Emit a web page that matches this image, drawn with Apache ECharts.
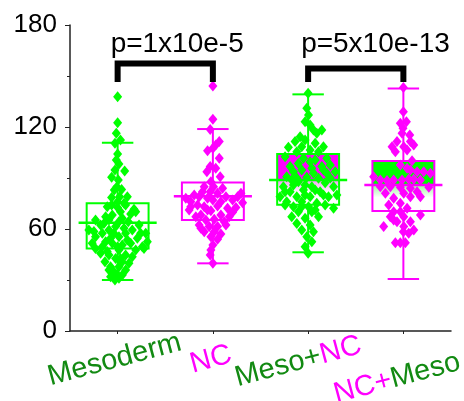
<!DOCTYPE html>
<html>
<head>
<meta charset="utf-8">
<script src="https://cdn.jsdelivr.net/npm/echarts@6/dist/echarts.min.js"></script>
<style>
  html, body { margin: 0; padding: 0; background: #fff; }
  #chart { width: 464px; height: 401px; }
</style>
</head>
<body>
<div id="chart"></div>
<script>
// Groups along the x axis
const categories = ['Mesoderm', 'NC', 'Meso+NC', 'NC+Meso'];
// Colour key for each fragment of a group name: g = mesoderm green, m = neural crest magenta
const labelParts = [
  [['Mesoderm', 'g']],
  [['NC', 'm']],
  [['Meso+', 'g'], ['NC', 'm']],
  [['NC+', 'm'], ['Meso', 'g']]
];

// Box statistics per group
const boxLow    = [30.0, 39.8, 46.3, 30.6];
const boxQ1     = [48.6, 65.3, 74.3, 70.6];
const boxMedian = [63.7, 79.2, 88.8, 85.9];
const boxQ3     = [75.1, 87.4, 104.1, 100.0];
const boxHigh   = [110.8, 118.8, 139.2, 142.7];

// Individual measurements: [horizontal jitter (fraction of a group slot), value]
const mesodermPoints = [
  [0, 137.8], [0, 122.5], [-0.014, 116.3], [0.03, 112.4], [-0.028, 110.4], [0, 104.1],
  [-0.014, 100.6], [0.014, 98.2], [-0.028, 94.7], [0.074, 94.1], [-0.063, 90.4], [0.007, 88.8],
  [-0.007, 84.9], [0.042, 83.3], [-0.035, 82.9], [-0.063, 78.6], [0.021, 79.0], [0.102, 79.0],
  [0, 76.1], [0.067, 75.1], [0.084, 74.1], [-0.063, 74.1], [-0.109, 73.1], [0, 72.7],
  [0.172, 71.6], [0.19, 70.2], [0.03, 70.2], [0.137, 68.8], [-0.056, 68.2], [-0.126, 67.2],
  [0.049, 66.3], [-0.232, 65.3], [-0.091, 65.3], [0.112, 64.3], [0.014, 64.3], [-0.144, 63.3],
  [-0.179, 62.4], [0.225, 62.4], [-0.021, 61.4], [0.067, 60.4], [-0.302, 59.4], [-0.091, 59.4],
  [0.154, 59.4], [-0.249, 58.5], [-0.161, 57.5], [-0.039, 57.5], [0.084, 57.5], [0.242, 57.5],
  [0.295, 57.5], [-0.232, 55.5], [0.014, 55.5], [-0.074, 54.5], [0.207, 54.5], [0.102, 53.5],
  [-0.126, 52.5], [0.312, 52.5], [-0.267, 51.6], [-0.056, 51.6], [0.137, 51.6], [0.049, 50.6],
  [-0.161, 49.6], [0, 49.6], [0.26, 49.6], [-0.232, 48.6], [0.277, 48.6], [0.014, 47.6],
  [0.19, 47.6], [-0.109, 46.7], [-0.179, 45.7], [-0.091, 44.7], [0.084, 44.7], [0.154, 43.7],
  [-0.021, 42.7], [0.03, 42.7], [-0.133, 40.8], [0.049, 40.8], [0.119, 39.8], [-0.074, 37.8],
  [0.014, 37.8], [0.084, 35.9], [-0.091, 35.9], [-0.039, 34.9], [0, 32.9], [0.049, 32.9],
  [-0.074, 31.9], [0.014, 31.0], [-0.028, 30.0]
];
const ncPoints = [
  [0, 144.1], [0, 124.5], [-0.028, 118.6], [0.067, 111.4], [0.03, 109.4], [0, 107.5],
  [-0.056, 106.1], [0.067, 101.6], [-0.028, 96.7], [0.03, 95.7], [-0.063, 93.7], [0.077, 90.8],
  [-0.021, 87.8], [-0.091, 84.9], [0.007, 84.9], [0.102, 83.9], [-0.109, 81.9], [-0.028, 81.9],
  [0.049, 81.0], [0.295, 81.0], [-0.196, 80.0], [-0.144, 79.0], [0.137, 79.0], [0.26, 79.0],
  [-0.284, 78.1], [-0.056, 78.1], [0, 77.1], [0.207, 77.1], [-0.232, 76.1], [0.084, 76.1],
  [0.312, 75.5], [-0.161, 74.1], [0.049, 73.5], [-0.091, 73.1], [-0.232, 73.1], [0.242, 72.7],
  [0.154, 72.2], [-0.249, 71.2], [-0.056, 71.2], [-0.021, 70.8], [0.207, 69.8], [-0.126, 68.2],
  [0.084, 68.2], [-0.179, 67.2], [0.172, 67.2], [0.014, 65.7], [-0.074, 65.3], [0.119, 64.3],
  [-0.144, 62.4], [0.137, 62.4], [-0.039, 61.4], [0.049, 61.4], [-0.126, 60.4], [-0.091, 58.4],
  [0.014, 58.4], [0.084, 57.1], [-0.021, 55.5], [0.049, 53.9], [0, 50.6], [-0.021, 47.6],
  [-0.028, 44.7], [0, 39.8]
];
const mesoNcPoints = [
  [0, 139.8], [-0.014, 131.0], [0.004, 127.1], [-0.032, 123.1], [0.021, 121.2], [0.056, 118.2],
  [0.144, 118.2], [0.091, 116.3], [-0.084, 114.3], [-0.032, 112.4], [-0.137, 111.4], [0.074, 110.4],
  [-0.067, 108.4], [0.161, 108.4], [-0.207, 108.1], [0.021, 106.5], [-0.119, 105.5], [0.109, 105.5],
  [-0.242, 102.5], [-0.049, 101.6], [0.196, 101.6], [0.074, 100.6], [0.021, 99.6], [-0.102, 98.6],
  [0.232, 97.6], [-0.189, 96.7], [0.144, 96.7], [0.039, 95.7], [-0.067, 94.7], [0.161, 94.7],
  [-0.154, 93.7], [0.284, 93.7], [0.056, 92.8], [0.196, 92.8], [-0.225, 90.8], [-0.014, 90.4],
  [-0.119, 90.0], [0.232, 90.0], [0.109, 89.8], [-0.172, 88.8], [-0.102, 87.8], [0.179, 87.2],
  [-0.154, 85.9], [-0.032, 85.9], [-0.26, 84.9], [0.039, 84.9], [0.267, 84.9], [-0.049, 82.9],
  [0.074, 82.9], [-0.189, 81.9], [0.126, 81.9], [-0.242, 81.9], [0.302, 80.0], [-0.032, 80.0],
  [0.161, 80.0], [-0.295, 79.0], [-0.119, 79.0], [0.021, 79.0], [0.214, 79.0], [-0.225, 76.1],
  [-0.067, 76.1], [0.091, 75.1], [-0.242, 74.1], [0.179, 74.1], [-0.154, 73.1], [0.004, 73.1],
  [-0.067, 73.1], [0.267, 72.2], [0.074, 71.2], [-0.102, 70.2], [0.039, 70.2], [-0.172, 67.2],
  [0.109, 67.2], [-0.032, 66.3], [-0.119, 63.3], [0.021, 62.4], [-0.067, 59.4], [0.056, 58.4],
  [-0.014, 55.5], [0.039, 52.5], [-0.032, 49.6], [0, 45.7]
];
const ncMesoPoints = [
  [0, 143.3], [0, 129.0], [0.032, 123.1], [-0.032, 122.2], [-0.004, 119.2], [-0.014, 116.3],
  [0.067, 115.3], [0.074, 111.4], [-0.067, 111.4], [0.109, 109.4], [-0.119, 108.4], [0.004, 108.4],
  [0.039, 106.5], [-0.084, 105.5], [0.091, 100.2], [-0.032, 97.6], [0.039, 95.7], [0.074, 94.7],
  [0.144, 93.7], [0.214, 93.7], [0.284, 92.8], [-0.312, 90.8], [0.056, 89.2], [0.109, 89.2],
  [-0.242, 88.8], [-0.102, 88.8], [-0.014, 88.8], [0.179, 88.8], [-0.172, 88.6], [-0.242, 84.9],
  [-0.137, 84.9], [-0.032, 84.5], [0.267, 84.5], [0.074, 83.9], [0.144, 81.9], [-0.189, 81.0],
  [0.004, 81.0], [0.074, 79.0], [0.179, 79.0], [-0.102, 78.1], [-0.032, 75.1], [-0.154, 74.1],
  [0.039, 72.2], [-0.102, 70.2], [-0.032, 70.2], [0.179, 68.2], [-0.137, 67.2], [0.004, 67.2],
  [-0.102, 65.3], [-0.067, 64.3], [0.074, 64.3], [-0.207, 61.4], [0.004, 61.4], [0.109, 59.4],
  [0, 58.4], [0.056, 57.5], [-0.084, 51.9], [-0.032, 51.9], [0.021, 51.9]
];
const groupPoints = [mesodermPoints, ncPoints, mesoNcPoints, ncMesoPoints];

// Significance brackets: [left group, right group, bar level, leg end level, text level]
const brackets = [[0, 1, 157.4, 146.5, 168.5], [2, 3, 154.4, 146.5, 168.5]];
const pLabels = ['p=1x10e-5', 'p=5x10e-13'];

// Y axis range and step
const yMin = 0, yMax = 180, yStep = 60;

// ---- styling ----
const GREEN = '#00ff00';
const MAGENTA = '#ff00ff';
const LABEL_GREEN = '#128a12';
const FONT = '"Liberation Sans", Arial, sans-serif';
const groupColor = [GREEN, MAGENTA, GREEN, MAGENTA];
// Box fills: none for single tissues, two-tone gradient for the combined ones
const fillColor = [null, null, MAGENTA, GREEN];
const fadeColor = [null, null, '#f6a6f6', '#a8f7a8'];
// Per-label padding [top, right, bottom, left] used to stagger the tilted group names
const labelPadding = [[0, 14, 0, 0], [0, 12, 0, 0], [0, 28, 0, 0], [17, 30, 0, 0]];

const chart = echarts.init(document.getElementById('chart'), null, { renderer: 'canvas' });

function boxGeometry(api) {
  const i = api.value(0);
  const cx = api.coord([i, 0])[0];
  const band = api.size([1, 0])[0];
  const y = k => api.coord([i, api.value(k)])[1];
  return { i, cx, band, yLow: y(1), yQ1: y(2), yMed: y(3), yQ3: y(4), yHigh: y(5) };
}

const boxData = categories.map((c, i) => [i, boxLow[i], boxQ1[i], boxMedian[i], boxQ3[i], boxHigh[i]]);

function renderBoxBack(params, api) {
  const g = boxGeometry(api);
  const col = groupColor[g.i];
  const bw = g.band * 0.65, cw = g.band * 0.33;
  const children = [];
  if (fillColor[g.i]) {
    const t = (g.yMed - g.yQ3) / (g.yQ1 - g.yQ3);
    children.push({
      type: 'rect',
      shape: { x: g.cx - bw / 2, y: g.yQ3, width: bw, height: g.yQ1 - g.yQ3 },
      style: {
        fill: new echarts.graphic.LinearGradient(0, 0, 0, 1, [
          { offset: 0, color: fillColor[g.i] },
          { offset: t, color: fillColor[g.i] },
          { offset: Math.min(t + 0.03, 1), color: fadeColor[g.i] },
          { offset: Math.min(t + 0.25, 1), color: '#ffffff' },
          { offset: 1, color: '#ffffff' }
        ]),
        stroke: null
      }
    });
  }
  const line = (x1, y1, x2, y2) => ({
    type: 'line', shape: { x1, y1, x2, y2 },
    style: { stroke: col, lineWidth: 2 }
  });
  children.push(line(g.cx, g.yQ3, g.cx, g.yHigh));
  children.push(line(g.cx, g.yQ1, g.cx, g.yLow));
  children.push(line(g.cx - cw / 2, g.yHigh, g.cx + cw / 2, g.yHigh));
  children.push(line(g.cx - cw / 2, g.yLow, g.cx + cw / 2, g.yLow));
  return { type: 'group', children };
}

function renderBoxFront(params, api) {
  const g = boxGeometry(api);
  const col = groupColor[g.i];
  const bw = g.band * 0.65, mw = g.band * 0.82;
  return {
    type: 'group',
    children: [
      {
        type: 'rect',
        shape: { x: g.cx - bw / 2, y: g.yQ3, width: bw, height: g.yQ1 - g.yQ3 },
        style: { fill: null, stroke: col, lineWidth: 2 }
      },
      {
        type: 'line',
        shape: { x1: g.cx - mw / 2, y1: g.yMed, x2: g.cx + mw / 2, y2: g.yMed },
        style: { stroke: col, lineWidth: 2.5 }
      }
    ]
  };
}

function renderBracket(params, api) {
  const a = api.value(0), b = api.value(1);
  const top = api.value(2), leg = api.value(3), textLevel = api.value(4);
  const xl = api.coord([a, top])[0];
  const xr = api.coord([b, top])[0];
  const yt = api.coord([a, top])[1];
  const yb = api.coord([a, leg])[1];
  const yText = api.coord([a, textLevel])[1];
  return {
    type: 'group',
    children: [
      {
        type: 'polyline',
        shape: { points: [[xl, yb], [xl, yt], [xr, yt], [xr, yb]] },
        style: { stroke: '#000', lineWidth: 6, fill: null, lineJoin: 'miter', lineCap: 'butt' }
      },
      {
        type: 'text',
        x: xl - 7, y: yText,
        style: {
          text: pLabels[params.dataIndex], fill: '#000',
          font: '28px ' + FONT, textAlign: 'left', textVerticalAlign: 'middle'
        }
      }
    ]
  };
}

const scatterSeries = groupPoints.map((pts, i) => ({
  type: 'scatter',
  xAxisIndex: 1,
  z: 3,
  symbol: 'diamond',
  symbolSize: [9, 11],
  itemStyle: { color: groupColor[i], opacity: 1 },
  silent: true,
  data: pts.map(([j, v]) => [i + j, v])
}));

const option = {
  animation: false,
  backgroundColor: '#fff',
  grid: { left: 70, right: 13, top: 25, bottom: 70, containLabel: false, outerBoundsMode: 'none' },
  xAxis: [
    {
      type: 'category',
      data: categories.map((c, i) => ({
        value: c,
        textStyle: { align: 'center', verticalAlign: 'top', padding: labelPadding[i] }
      })),
      boundaryGap: true,
      axisLine: { show: true, onZero: false, lineStyle: { color: '#222', width: 1.5 } },
      axisTick: { show: true, alignWithLabel: true, length: 3, lineStyle: { color: '#222', width: 1 } },
      axisLabel: {
        interval: 0,
        rotate: 15,
        align: 'center',
        verticalAlign: 'top',
        margin: 13,
        fontSize: 29,
        fontFamily: FONT,
        formatter: (value, idx) => labelParts[idx].map(([t, k]) => '{' + k + '|' + t + '}').join(''),
        rich: {
          g: { color: LABEL_GREEN, fontSize: 29, fontFamily: FONT },
          m: { color: MAGENTA, fontSize: 29, fontFamily: FONT }
        }
      },
      splitLine: { show: false }
    },
    {
      type: 'value',
      min: -0.5,
      max: 3.5,
      show: false
    }
  ],
  yAxis: {
    type: 'value',
    min: yMin,
    max: yMax,
    interval: yStep,
    axisLine: { show: true, onZero: false, lineStyle: { color: '#222', width: 1.5 } },
    axisTick: { show: true, length: 5, lineStyle: { color: '#222', width: 1 } },
    minorTick: { show: true, splitNumber: 2, length: 3, lineStyle: { color: '#222', width: 1 } },
    axisLabel: { fontSize: 26, color: '#000', fontFamily: FONT, margin: 13 },
    splitLine: { show: false }
  },
  series: [
    {
      type: 'custom',
      name: 'boxBack',
      xAxisIndex: 1,
      z: 1,
      silent: true,
      renderItem: renderBoxBack,
      data: boxData
    },
    ...scatterSeries,
    {
      type: 'custom',
      name: 'boxFront',
      xAxisIndex: 1,
      z: 4,
      silent: true,
      renderItem: renderBoxFront,
      data: boxData
    },
    {
      type: 'custom',
      name: 'brackets',
      xAxisIndex: 1,
      z: 5,
      silent: true,
      clip: false,
      renderItem: renderBracket,
      data: brackets
    }
  ]
};

chart.setOption(option);
</script>
</body>
</html>
